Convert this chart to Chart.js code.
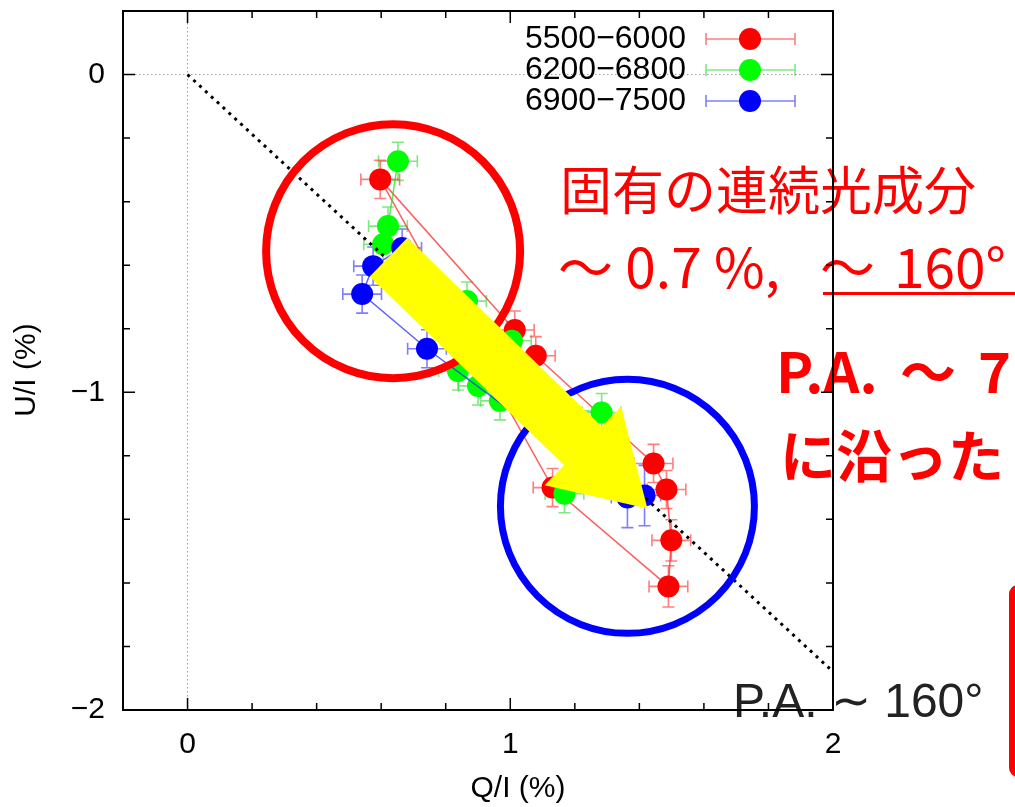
<!DOCTYPE html>
<html>
<head>
<meta charset="utf-8">
<script src="https://cdn.jsdelivr.net/npm/chart.js@4.4.0/dist/chart.umd.min.js"></script>
<style>
  html, body { margin: 0; padding: 0; background: #fff; }
  #wrap { width: 1015px; height: 807px; }
</style>
</head>
<body>
<div id="wrap"><canvas id="polChart" width="1015" height="807"></canvas></div>
<script>
// Q/I, U/I (%) for each wavelength band
const seriesLabels = ['5500\u22126000', '6200\u22126800', '6900\u22127500'];

const redQ = [1.014, 0.597, 1.131, 1.490, 1.499, 1.484, 1.444, 1.079];
const redU = [-0.804, -0.330, -1.300, -1.611, -1.466, -1.306, -1.224, -0.885];
const redQerr = [0.06, 0.06, 0.06, 0.06, 0.06, 0.06, 0.06, 0.06];
const redUerr = [0.06, 0.06, 0.06, 0.065, 0.065, 0.06, 0.06, 0.06];

const greenQ = [0.652, 0.621, 0.606, 0.866, 1.005, 0.838, 0.900, 0.968, 1.283, 1.168];
const greenU = [-0.273, -0.477, -0.534, -0.713, -0.838, -0.933, -0.980, -1.027, -1.064, -1.319];
const greenQerr = [0.06, 0.06, 0.06, 0.06, 0.06, 0.06, 0.06, 0.06, 0.06, 0.06];
const greenUerr = [0.06, 0.06, 0.06, 0.06, 0.06, 0.06, 0.06, 0.06, 0.06, 0.06];

const blueQ = [0.665, 0.575, 0.541, 0.742, 1.363, 1.416];
const blueU = [-0.546, -0.603, -0.691, -0.863, -1.331, -1.325];
const blueQerr = [0.06, 0.06, 0.06, 0.06, 0.05, 0.05];
const blueUerr = [0.06, 0.06, 0.06, 0.06, 0.095, 0.095];

// P.A. ~ 160 deg direction
const paQ = [0, 1.99];
const paU = [0, -1.87];

const xTicksMajor = [0, 1, 2];
const yTicksMajor = [0, -1, -2];
const xTitle = 'Q/I (%)';
const yTitle = 'U/I (%)';

function toPoints(qs, us) {
    return qs.map((q, i) => ({ x: q, y: us[i] }));
}

function isWhole(v) {
    return Math.abs(v - Math.round(v)) < 1e-6;
}

function fmt(v) {
    const r = Math.round(v);
    return r < 0 ? '\u2212' + Math.abs(r) : String(r);
}

const errorBars = {
    id: 'errorBars',
    beforeDatasetsDraw(chart) {
        const { ctx, chartArea: a, scales: { x, y } } = chart;
        ctx.save();
        // dotted zero lines
        ctx.strokeStyle = '#9a9a9a';
        ctx.lineWidth = 1;
        ctx.setLineDash([1.5, 2.5]);
        ctx.beginPath();
        ctx.moveTo(x.getPixelForValue(0), a.top);
        ctx.lineTo(x.getPixelForValue(0), a.bottom);
        ctx.moveTo(a.left, y.getPixelForValue(0));
        ctx.lineTo(a.right, y.getPixelForValue(0));
        ctx.stroke();
        ctx.setLineDash([]);

        chart.data.datasets.forEach(ds => {
            if (!ds.errQ) return;
            ctx.strokeStyle = ds.errColor;
            ctx.lineWidth = 1.6;
            ds.data.forEach((p, i) => {
                const px = x.getPixelForValue(p.x);
                const py = y.getPixelForValue(p.y);
                const x0 = x.getPixelForValue(p.x - ds.errQ[i]);
                const x1 = x.getPixelForValue(p.x + ds.errQ[i]);
                const y0 = y.getPixelForValue(p.y - ds.errU[i]);
                const y1 = y.getPixelForValue(p.y + ds.errU[i]);
                const cap = 6;
                ctx.beginPath();
                ctx.moveTo(x0, py); ctx.lineTo(x1, py);
                ctx.moveTo(x0, py - cap); ctx.lineTo(x0, py + cap);
                ctx.moveTo(x1, py - cap); ctx.lineTo(x1, py + cap);
                ctx.moveTo(px, y0); ctx.lineTo(px, y1);
                ctx.moveTo(px - cap, y0); ctx.lineTo(px + cap, y0);
                ctx.moveTo(px - cap, y1); ctx.lineTo(px + cap, y1);
                ctx.stroke();
            });
        });
        ctx.restore();
    },
    afterDatasetsDraw(chart) {
        const { ctx, scales: { x, y } } = chart;
        ctx.save();

        // legend, gnuplot style
        const sets = chart.data.datasets.filter(d => d.errQ).slice().reverse();
        sets.forEach((ds, i) => {
            const ly = 39 + i * 31;
            ctx.fillStyle = '#000';
            ctx.font = '32px "Liberation Sans"';
            ctx.textAlign = 'right';
            ctx.textBaseline = 'middle';
            ctx.fillText(ds.label, 686, ly);
            ctx.strokeStyle = ds.errColor;
            ctx.lineWidth = 1.6;
            ctx.beginPath();
            ctx.moveTo(706, ly); ctx.lineTo(795, ly);
            ctx.moveTo(706, ly - 6); ctx.lineTo(706, ly + 6);
            ctx.moveTo(795, ly - 6); ctx.lineTo(795, ly + 6);
            ctx.stroke();
            ctx.fillStyle = ds.pointBackgroundColor;
            ctx.beginPath();
            ctx.arc(750, ly, 11, 0, Math.PI * 2);
            ctx.fill();
        });

        // axis titles
        ctx.fillStyle = '#000';
        ctx.font = '30px "Liberation Sans"';
        ctx.textAlign = 'center';
        ctx.textBaseline = 'middle';
        ctx.fillText(xTitle, 518, 789);
        ctx.save();
        ctx.translate(27, 370);
        ctx.rotate(-Math.PI / 2);
        ctx.fillText(yTitle, 0, 0);
        ctx.restore();

        // circled groups
        ctx.lineWidth = 8;
        ctx.strokeStyle = '#ff0000';
        ctx.beginPath();
        ctx.arc(x.getPixelForValue(0.637), y.getPixelForValue(-0.556), 127, 0, Math.PI * 2);
        ctx.stroke();
        ctx.lineWidth = 7;
        ctx.strokeStyle = '#0000ff';
        ctx.beginPath();
        ctx.arc(x.getPixelForValue(1.363), y.getPixelForValue(-1.359), 127, 0, Math.PI * 2);
        ctx.stroke();

        // yellow arrow
        const sx = x.getPixelForValue(0.623), sy = y.getPixelForValue(-0.575);
        const tx = x.getPixelForValue(1.425), ty = y.getPixelForValue(-1.366);
        const len = Math.hypot(tx - sx, ty - sy);
        ctx.save();
        ctx.translate(sx, sy);
        ctx.rotate(Math.atan2(ty - sy, tx - sx));
        const hw = 27, hh = 55, hl = 90;
        ctx.beginPath();
        ctx.moveTo(0, -hw);
        ctx.lineTo(len - hl, -hw);
        ctx.lineTo(len - hl, -hh);
        ctx.lineTo(len, 0);
        ctx.lineTo(len - hl, hh);
        ctx.lineTo(len - hl, hw);
        ctx.lineTo(0, hw);
        ctx.closePath();
        ctx.fillStyle = '#ffff00';
        ctx.fill();
        ctx.restore();

        // slide text
        ctx.textAlign = 'left';
        ctx.textBaseline = 'middle';
        ctx.fillStyle = '#ff0000';
        ctx.font = '52px "Noto Sans CJK JP"';
        ctx.fillText('固有の連続光成分', 560, 190);
        ctx.font = '55px "Noto Sans CJK JP"';
        ctx.fillText('～ 0.7 %,', 558, 267);
        ctx.fillText('～', 820, 267);
        ctx.fillText('160°', 894, 267);
        ctx.fillRect(823, 292, 192, 3);
        ctx.font = 'bold 56px "Noto Sans CJK JP"';
        ctx.fillText('P.A.', 776, 372);
        ctx.fillText('～', 900, 372);
        ctx.fillText('7', 978, 372);
        ctx.fillText('に沿った', 780, 456);

        ctx.fillStyle = '#222';
        ctx.font = '48px "Liberation Sans"';
        ctx.textBaseline = 'alphabetic';
        ctx.fillText('P.A. \u223C 160°', 733, 717);

        ctx.strokeStyle = '#ff0000';
        ctx.lineWidth = 6;
        ctx.beginPath();
        ctx.roundRect(1012, 588, 200, 186, 6);
        ctx.stroke();
        ctx.restore();
    },
    afterDraw(chart) {
        const { ctx, chartArea: a, scales: { x, y } } = chart;
        ctx.save();
        ctx.strokeStyle = '#000';
        ctx.lineWidth = 2;
        ctx.strokeRect(a.left, a.top, a.right - a.left, a.bottom - a.top);
        ctx.lineWidth = 1.5;
        ctx.beginPath();
        x.ticks.forEach(t => {
            const px = x.getPixelForValue(t.value);
            const len = isWhole(t.value) ? 12 : 7;
            ctx.moveTo(px, a.bottom); ctx.lineTo(px, a.bottom - len);
            ctx.moveTo(px, a.top); ctx.lineTo(px, a.top + len);
        });
        y.ticks.forEach(t => {
            const py = y.getPixelForValue(t.value);
            const len = isWhole(t.value) ? 12 : 7;
            ctx.moveTo(a.left, py); ctx.lineTo(a.left + len, py);
            ctx.moveTo(a.right, py); ctx.lineTo(a.right - len, py);
        });
        ctx.stroke();
        ctx.restore();
    }
};

const ctx = document.getElementById('polChart').getContext('2d');
const polChart = new Chart(ctx, {
    type: 'scatter',
    data: {
        datasets: [
            {
                label: 'P.A.',
                data: toPoints(paQ, paU),
                showLine: true,
                borderColor: '#000',
                borderWidth: 3,
                borderDash: [3, 5],
                pointRadius: 0
            },
            {
                label: seriesLabels[2],
                data: toPoints(blueQ, blueU),
                errQ: blueQerr, errU: blueUerr,
                errColor: 'rgba(40,40,255,0.6)',
                showLine: true,
                borderColor: 'rgba(40,40,255,0.75)',
                borderWidth: 1.5,
                pointRadius: 11,
                pointBorderWidth: 0,
                pointBackgroundColor: '#0000ff'
            },
            {
                label: seriesLabels[1],
                data: toPoints(greenQ, greenU),
                errQ: greenQerr, errU: greenUerr,
                errColor: 'rgba(40,220,40,0.6)',
                showLine: true,
                borderColor: 'rgba(40,220,40,0.75)',
                borderWidth: 1.5,
                pointRadius: 11,
                pointBorderWidth: 0,
                pointBackgroundColor: '#00ff00'
            },
            {
                label: seriesLabels[0],
                data: toPoints(redQ, redU),
                errQ: redQerr, errU: redUerr,
                errColor: 'rgba(255,40,40,0.6)',
                showLine: true,
                borderColor: 'rgba(255,40,40,0.75)',
                borderWidth: 1.5,
                pointRadius: 11,
                pointBorderWidth: 0,
                pointBackgroundColor: '#ff0000'
            }
        ]
    },
    options: {
        responsive: false,
        animation: false,
        devicePixelRatio: 1,
        layout: { padding: { top: 10, right: 182, left: 0, bottom: 0 } },
        plugins: {
            legend: { display: false },
            tooltip: { enabled: false }
        },
        scales: {
            x: {
                type: 'linear',
                min: -0.2,
                max: 2,
                afterFit: function(scale) {
                    scale.height = 97;
                    scale.paddingLeft = 0;
                    scale.paddingRight = 0;
                },
                grid: { display: false, drawTicks: false },
                border: { display: false },
                ticks: {
                    stepSize: 0.2,
                    autoSkip: false,
                    maxRotation: 0,
                    padding: 17,
                    color: '#000',
                    font: { family: 'Liberation Sans', size: 30 },
                    callback: function(value) {
                        return xTicksMajor.some(v => Math.abs(v - value) < 1e-6) ? fmt(value) : '';
                    }
                },
                title: { display: false }
            },
            y: {
                type: 'linear',
                min: -2,
                max: 0.2,
                afterFit: function(scale) {
                    scale.width = 123;
                    scale.paddingTop = 0;
                    scale.paddingBottom = 0;
                },
                grid: { display: false, drawTicks: false },
                border: { display: false },
                ticks: {
                    stepSize: 0.2,
                    autoSkip: false,
                    padding: 18,
                    color: '#000',
                    font: { family: 'Liberation Sans', size: 30 },
                    callback: function(value) {
                        return yTicksMajor.some(v => Math.abs(v - value) < 1e-6) ? fmt(value) : '';
                    }
                },
                title: { display: false }
            }
        }
    },
    plugins: [errorBars]
});
</script>
</body>
</html>
